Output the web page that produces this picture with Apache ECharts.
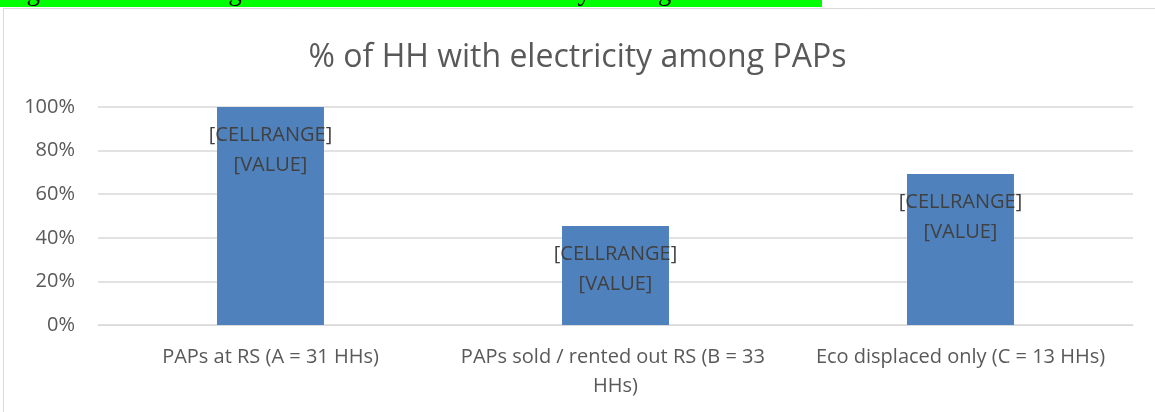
<!DOCTYPE html>
<html>
<head>
    <meta charset="utf-8">
    <title>% of HH with electricity among PAPs</title>
    <script src="https://cdn.jsdelivr.net/npm/echarts@6/dist/echarts.min.js"></script>
    <style>
        html, body { margin: 0; padding: 0; background: #fff; }
        #main { width: 1155px; height: 412px; }
    </style>
</head>
<body>
<div id="main"></div>
<script type="text/javascript">
    // 数据
    var categories = ['PAPs at RS (A = 31 HHs)', 'PAPs sold / rented out RS (B = 33 HHs)', 'Eco displaced only (C = 13 HHs)'];
    var values = [1.0, 0.4545, 0.6923];
    var yTicks = [0, 0.2, 0.4, 0.6, 0.8, 1.0];
    var caption = 'Figure 3.10 Percentage of Households with Electricity amongst PAPs';

    var myChart = echarts.init(document.getElementById('main'));

    var option = {
        animation: false,
        backgroundColor: '#fff',
        title: {
            text: '% of HH with electricity among PAPs',
            left: 'center',
            top: 37,
            textStyle: {
                fontFamily: 'Open Sans',
                fontSize: 32,
                fontWeight: 'normal',
                color: '#595959'
            }
        },
        graphic: [
            {
                type: 'rect',
                shape: {x: 3.5, y: 8.5, width: 1160, height: 420},
                style: {fill: 'none', stroke: '#d9d9d9', lineWidth: 1},
                silent: true
            },
            {
                type: 'rect',
                shape: {x: 0, y: 0, width: 822, height: 7},
                style: {fill: '#00ff00'},
                silent: true
            },
            {
                type: 'text',
                left: 4,
                top: -21,
                style: {
                    text: caption,
                    font: '27px "Liberation Serif"',
                    fill: '#000'
                },
                silent: true
            }
        ],
        grid: {
            left: 98,
            right: 22,
            top: 107,
            bottom: 87,
            containLabel: false
        },
        xAxis: {
            type: 'category',
            data: categories,
            axisLine: {lineStyle: {color: '#d9d9d9', width: 1}},
            axisTick: {show: false},
            axisLabel: {
                interval: 0,
                width: 330,
                overflow: 'break',
                margin: 18,
                lineHeight: 29,
                fontFamily: 'Open Sans',
                fontSize: 20,
                color: '#595959'
            }
        },
        yAxis: {
            type: 'value',
            min: 0,
            max: 1,
            interval: 0.2,
            axisLine: {show: false},
            axisTick: {show: false},
            splitLine: {lineStyle: {color: '#d9d9d9', width: 1.5}},
            axisLabel: {
                margin: 23,
                fontFamily: 'Open Sans',
                fontSize: 20,
                color: '#595959',
                formatter: function (v) {
                    return yTicks.indexOf(Math.round(v * 10) / 10) >= 0 ? Math.round(v * 100) + '%' : '';
                }
            }
        },
        series: [{
            type: 'bar',
            data: values,
            barWidth: '31%',
            itemStyle: {color: '#4f81bd'},
            label: {
                show: true,
                position: 'insideTop',
                distance: 13,
                formatter: '[CELLRANGE]\n[VALUE]',
                fontFamily: 'Open Sans',
                fontSize: 20,
                lineHeight: 30,
                color: '#404040'
            }
        }]
    };
    myChart.setOption(option);
</script>
</body>
</html>
